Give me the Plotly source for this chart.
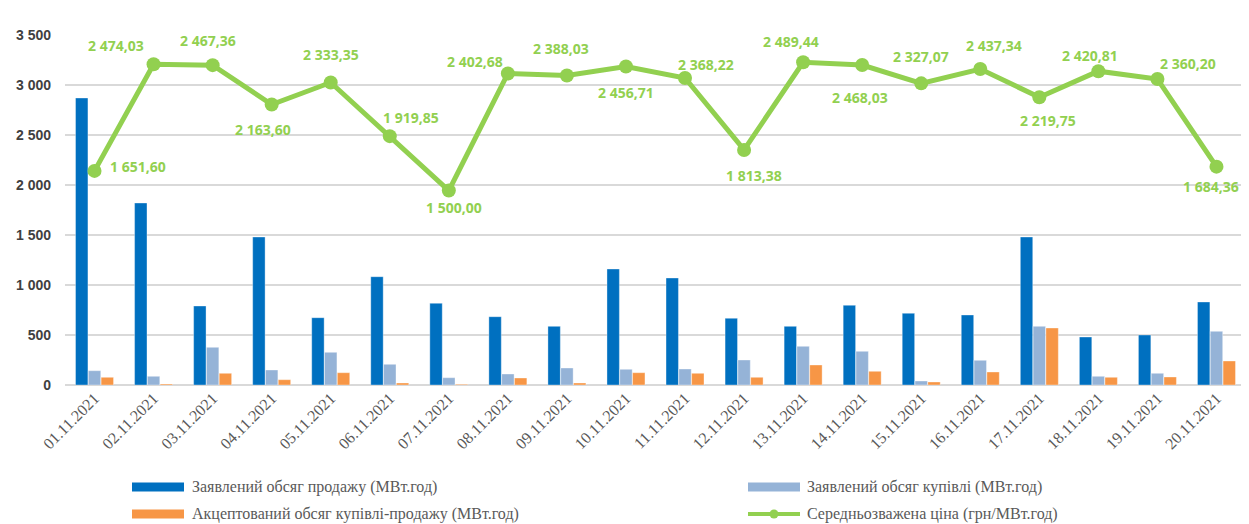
import plotly.graph_objects as go

dates = ["01.11.2021", "02.11.2021", "03.11.2021", "04.11.2021", "05.11.2021",
         "06.11.2021", "07.11.2021", "08.11.2021", "09.11.2021", "10.11.2021",
         "11.11.2021", "12.11.2021", "13.11.2021", "14.11.2021", "15.11.2021",
         "16.11.2021", "17.11.2021", "18.11.2021", "19.11.2021", "20.11.2021"]

sell_declared = [2870, 1820, 790, 1480, 673, 1083, 817, 683, 587, 1160,
                 1070, 667, 587, 797, 717, 700, 1480, 480, 500, 830]
buy_declared = [143, 87, 377, 150, 327, 207, 73, 110, 170, 157,
                160, 250, 387, 337, 40, 247, 587, 87, 117, 537]
accepted = [77, 10, 117, 53, 123, 20, 7, 70, 20, 123,
            117, 77, 200, 137, 30, 130, 570, 77, 80, 240]
price = [1651.60, 2474.03, 2467.36, 2163.60, 2333.35, 1919.85, 1500.00, 2402.68,
         2388.03, 2456.71, 2368.22, 1813.38, 2489.44, 2468.03, 2327.07, 2437.34,
         2219.75, 2420.81, 2360.20, 1684.36]

y_ticks = [0, 500, 1000, 1500, 2000, 2500, 3000, 3500]
y_tick_labels = ["0", "500", "1 000", "1 500", "2 000", "2 500", "3 000", "3 500"]

series_names = ["Заявлений обсяг продажу (МВт.год)",
                "Заявлений обсяг купівлі (МВт.год)",
                "Акцептований обсяг купівлі-продажу (МВт.год)",
                "Середньозважена ціна (грн/МВт.год)"]

# label offsets (pixels) for price data labels: (dx, dy up)
label_dx = [43, -38, -5, -9, 0, 21, 5, -33, -6, 0, 21, 10, -12, -2, 0, 14, 9, -8, 31, -5]
label_dy = [4, 19, 25, -25, 28, 19, -17, 12, 27, -26, 14, -26, 21, -32, 27, 24, -23, 16, 16, -20]

BLUE = "#0070C0"
LBLUE = "#95B3D7"
ORANGE = "#F79646"
GREEN = "#92D050"

fig = go.Figure()
bar_line = dict(color="rgba(255,255,255,0.35)", width=1)
fig.add_trace(go.Bar(x=dates, y=sell_declared, name=series_names[0],
                     marker=dict(color=BLUE, line=bar_line)))
fig.add_trace(go.Bar(x=dates, y=buy_declared, name=series_names[1],
                     marker=dict(color=LBLUE, line=bar_line)))
fig.add_trace(go.Bar(x=dates, y=accepted, name=series_names[2],
                     marker=dict(color=ORANGE, line=bar_line)))
fig.add_trace(go.Scatter(x=dates, y=price, name=series_names[3], yaxis="y2",
                         mode="lines+markers",
                         line=dict(color=GREEN, width=5),
                         marker=dict(color=GREEN, size=14)))

def fmt(v):
    s = f"{v:,.2f}"
    return s.replace(",", " ").replace(".", ",")

annotations = []
for d, v, dx, dy in zip(dates, price, label_dx, label_dy):
    annotations.append(dict(x=d, y=v, xref="x", yref="y2", text=fmt(v),
                            showarrow=False, xshift=dx, yshift=dy,
                            font=dict(family="Open Sans", size=14, color=GREEN,
                                      weight="bold")))

# custom legend (page pixel positions converted to paper coords)
W, H, L, T = 1181.0, 350.0, 65.0, 385.0
def px(x):
    return (x - L) / W
def py(y):
    return (T - y) / H

shapes = []
leg = [
    (132, 184, 487, BLUE, 190, series_names[0], "bar"),
    (748, 800, 487, LBLUE, 805, series_names[1], "bar"),
    (132, 184, 514, ORANGE, 190, series_names[2], "bar"),
    (748, 800, 514, GREEN, 805, series_names[3], "line"),
]
for x0, x1, yc, col, tx, name, kind in leg:
    if kind == "bar":
        shapes.append(dict(type="rect", xref="paper", yref="paper",
                           x0=px(x0), x1=px(x1), y0=py(yc - 4.5), y1=py(yc + 4.5),
                           fillcolor=col, line=dict(width=0)))
    else:
        shapes.append(dict(type="line", xref="paper", yref="paper",
                           x0=px(x0), x1=px(x1), y0=py(yc), y1=py(yc),
                           line=dict(color=col, width=4)))
        cx = (x0 + x1) / 2
        shapes.append(dict(type="circle", xref="paper", yref="paper",
                           x0=px(cx - 4.5), x1=px(cx + 4.5), y0=py(yc - 4.5), y1=py(yc + 4.5),
                           fillcolor=col, line=dict(width=0)))
    annotations.append(dict(x=px(tx), y=py(yc), xref="paper", yref="paper",
                            xanchor="left", yanchor="middle", text=name, showarrow=False,
                            font=dict(family="Liberation Serif", size=16, color="#595959")))

fig.update_layout(
    width=1241, height=516,
    margin=dict(l=57, r=3, t=27, b=139, autoexpand=False),
    paper_bgcolor="white", plot_bgcolor="white",
    barmode="group", bargap=0.35, bargroupgap=0.03,
    showlegend=False,
    xaxis=dict(type="category", range=[-0.5, len(dates) - 0.5],
               tickangle=-45, showgrid=False, ticks="",
               showline=False, automargin=False,
               tickfont=dict(family="Liberation Serif", size=16, color="#595959")),
    yaxis=dict(range=[0, 3500], tickvals=y_ticks, ticktext=y_tick_labels,
               showgrid=True, gridcolor="#D9D9D9", gridwidth=1.5,
               zeroline=True, zerolinecolor="#D9D9D9", zerolinewidth=1.5,
               ticks="", ticklabelstandoff=13, automargin=False,
               tickfont=dict(family="Liberation Sans", size=14, color="#404040",
                             weight="bold")),
    yaxis2=dict(range=[0, 2700], overlaying="y", side="right", visible=False),
    annotations=annotations,
    shapes=shapes,
)

fig.write_html("out.html")
